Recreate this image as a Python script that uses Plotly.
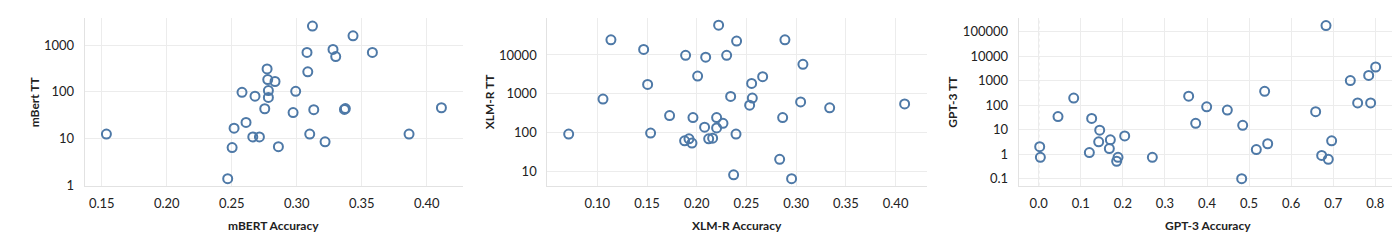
import plotly.graph_objects as go

# ---- data ----
mbert_acc = [0.3121, 0.3433, 0.3079, 0.3279, 0.3300, 0.3582, 0.2772, 0.3085, 0.2777, 0.2833,
             0.2579, 0.2679, 0.2782, 0.2782, 0.2992, 0.2754, 0.2972, 0.3131, 0.3367, 0.3374,
             0.4113, 0.2610, 0.2518, 0.1536, 0.2662, 0.2713, 0.3100, 0.3218, 0.3864, 0.2503,
             0.2859, 0.2469]
mbert_tt = [2570, 1590, 703, 812, 571, 703, 311, 270, 184, 167,
            98, 81, 107, 76, 103, 43.5, 36, 41.5, 42, 44,
            45.7, 22.2, 16.7, 12.5, 10.8, 10.8, 12.5, 8.5, 12.5, 6.4,
            6.7, 1.38]

xlmr_acc = [0.2220, 0.1137, 0.2401, 0.2887, 0.1466, 0.1888, 0.2090, 0.2301, 0.3068, 0.2009,
            0.2663, 0.1506, 0.2552, 0.1057, 0.2341, 0.2559, 0.2532, 0.3045, 0.3337, 0.4091,
            0.1727, 0.1962, 0.2200, 0.2864, 0.2079, 0.2200, 0.2264, 0.0712, 0.1536, 0.2395,
            0.1878, 0.1922, 0.1952, 0.2120, 0.2160, 0.2834, 0.2371, 0.2954]
xlmr_tt = [58400, 24600, 22800, 24600, 13860, 9810, 8750, 9810, 5730, 2870,
           2770, 1745, 1848, 736, 858, 780, 511, 619, 438, 552,
           277, 246, 246, 246, 139, 133, 175, 92.6, 98, 92.6,
           61.9, 69.5, 54.1, 69.5, 72.2, 20.7, 8.25, 6.56]

gpt3_acc = [0.6828, 0.8008, 0.7842, 0.7406, 0.5370, 0.3564, 0.7580, 0.7889, 0.3992, 0.4483,
            0.6582, 0.0832, 0.0459, 0.1259, 0.3731, 0.4848, 0.1450, 0.2044, 0.1703, 0.1426,
            0.6962, 0.5442, 0.0024, 0.1679, 0.5172, 0.1204, 0.6725, 0.0040, 0.1885, 0.1853,
            0.2701, 0.6883, 0.4824]
gpt3_tt = [178000, 3610, 1637, 1008, 368, 233, 123, 123, 85.3, 63,
           54, 194, 34.2, 28.5, 18.1, 15.0, 9.5, 5.5, 3.82, 3.18,
           3.49, 2.65, 2.01, 1.68, 1.53, 1.16, 0.885, 0.738, 0.738, 0.512,
           0.738, 0.614, 0.099]

mbert_xticks = [0.15, 0.20, 0.25, 0.30, 0.35, 0.40]
xlmr_xticks = [0.10, 0.15, 0.20, 0.25, 0.30, 0.35, 0.40]
gpt3_xticks = [0.0, 0.1, 0.2, 0.3, 0.4, 0.5, 0.6, 0.7, 0.8]
mbert_yticks = [1, 10, 100, 1000]
xlmr_yticks = [10, 100, 1000, 10000]
gpt3_yticks = [0.1, 1, 10, 100, 1000, 10000, 100000]

panels = [
    dict(x=mbert_acc, y=mbert_tt, xt=mbert_xticks, xfmt="{:.2f}", yt=mbert_yticks,
         xtitle="mBERT Accuracy", ytitle="mBert TT",
         dom=[76.7, 455], xr=[0.1369, 0.4279], yr=[-0.008, 3.590], ytx=26.7),
    dict(x=xlmr_acc, y=xlmr_tt, xt=xlmr_xticks, xfmt="{:.2f}", yt=xlmr_yticks,
         xtitle="XLM-R Accuracy", ytitle="XLM-R TT",
         dom=[539.3, 919.3], xr=[0.0497, 0.4319], yr=[0.641, 4.958], ytx=481.7),
    dict(x=gpt3_acc, y=gpt3_tt, xt=gpt3_xticks, xfmt="{:.1f}", yt=gpt3_yticks,
         xtitle="GPT-3 Accuracy", ytitle="GPT-3 TT",
         dom=[1010.7, 1390], xr=[-0.0475, 0.8539], yr=[-1.284, 5.569], ytx=945),
]

W, H = 1400, 249
BLUE = "#4e79a7"
GRID = "#ececec"
FONT = "Lato"

fig = go.Figure()
ydom = [1 - 182.7 / H, 1 - 10 / H]
annotations = []
shapes = []

def ylab(v):
    return ("%g" % v) if v < 1 else str(int(v))

for i, p in enumerate(panels, start=1):
    sfx = "" if i == 1 else str(i)
    fig.add_trace(go.Scatter(
        x=p["x"], y=p["y"], mode="markers",
        xaxis="x" + sfx, yaxis="y" + sfx,
        marker=dict(symbol="circle-open", size=9, color=BLUE, line=dict(width=2, color=BLUE)),
        showlegend=False, hoverinfo="x+y"))
    xd = [p["dom"][0] / W, p["dom"][1] / W]
    fig.update_layout(**{
        "xaxis" + sfx: dict(
            domain=xd, range=p["xr"], anchor="y" + sfx,
            tickvals=p["xt"], ticktext=[p["xfmt"].format(v) for v in p["xt"]],
            showgrid=True, gridcolor=GRID, gridwidth=1, zeroline=False,
            showline=True, linecolor="#e2e2e2", linewidth=1,
            ticks="", ticklabelstandoff=6,
            tickfont=dict(family=FONT, size=13, color="#222222")),
        "yaxis" + sfx: dict(
            domain=ydom, range=p["yr"], type="log", anchor="x" + sfx,
            tickvals=p["yt"], ticktext=[ylab(v) for v in p["yt"]],
            showgrid=True, gridcolor=GRID, gridwidth=1, zeroline=False,
            showline=True, linecolor="#e2e2e2", linewidth=1,
            ticks="", ticklabelstandoff=7,
            tickfont=dict(family=FONT, size=13, color="#222222")),
    })
    annotations.append(dict(
        text="<b>%s</b>" % p["xtitle"], xref="paper", yref="paper",
        x=(xd[0] + xd[1]) / 2, y=1 - 224 / H, xanchor="center", yanchor="middle",
        showarrow=False, font=dict(family=FONT, size=12, color="#222222")))
    annotations.append(dict(
        text="<b>%s</b>" % p["ytitle"], xref="paper", yref="paper",
        x=p["ytx"] / W, y=(ydom[0] + ydom[1]) / 2, xanchor="center", yanchor="middle",
        textangle=-90, showarrow=False, font=dict(family=FONT, size=12, color="#222222")))

# dotted zero reference line in GPT-3 panel
shapes.append(dict(type="line", xref="x3", yref="y3 domain", x0=0, x1=0, y0=0, y1=1,
                   line=dict(color="#b5b5b5", width=1, dash="dot"), layer="below"))

fig.update_layout(
    width=W, height=H, margin=dict(l=0, r=0, t=0, b=0),
    paper_bgcolor="white", plot_bgcolor="white",
    annotations=annotations, shapes=shapes,
    font=dict(family=FONT, size=12, color="#333333"),
)

fig.write_html("out.html")
